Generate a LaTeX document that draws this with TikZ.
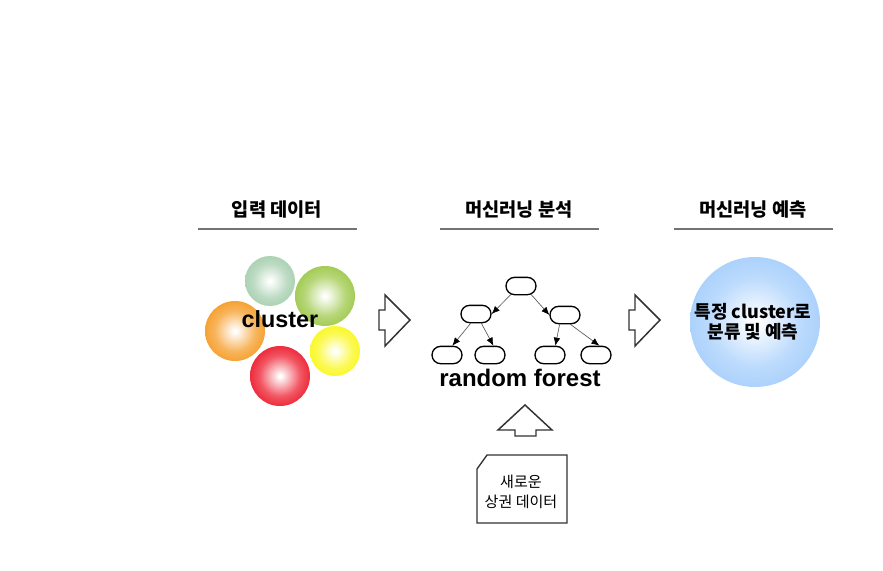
\documentclass[tikz,border=0pt]{standalone}
\usepackage{fontspec}
\setmainfont{Liberation Sans}
\newfontfamily\kr{Noto Sans CJK KR}
\usetikzlibrary{arrows.meta,shapes.misc}
\colorlet{ballc}{white}
\pgfdeclareradialshading[ballc]{glow}{\pgfpoint{0bp}{0bp}}{color(0bp)=(white); color(1bp)=(white); color(17bp)=(ballc!80!white); color(25bp)=(ballc); color(50bp)=(ballc)}
\definecolor{cgreenlt}{RGB}{172,210,180}
\definecolor{cgreen}{RGB}{164,204,86}
\definecolor{corange}{RGB}{246,162,52}
\definecolor{cyellow}{RGB}{250,248,44}
\definecolor{cred}{RGB}{238,44,60}
\definecolor{cblue}{RGB}{172,210,252}
\definecolor{lnd}{RGB}{50,50,50}
\tikzset{
    ball/.style 2 args={circle,draw=none,/utils/exec={\colorlet{ballc}{#2}},shading=glow,minimum size=#1},
    head/.style={font=\kr\bfseries\fontsize{14}{16}\selectfont},
    bar/.style={draw=gray!90!black,line width=1.2pt},
    blockarrow/.style={draw=lnd,line width=1.1pt,fill=white,line join=miter},
    tarrow/.style={draw=gray!70!black,line width=0.5pt,-{Latex[length=6pt,width=5pt,color=black]}}
}
\begin{document}
\begin{tikzpicture}[x=0.75pt,y=-0.75pt]
        \useasboundingbox (0,0) rectangle (883,571);
        % headings
        \begin{scope}[every node/.style={head}]
            \node (h1) at (277,210) {입력 데이터};
            \node (h2) at (519,210) {머신러닝 분석};
            \node (h3) at (753,210) {머신러닝 예측};
        \end{scope}
        \path [bar] (198,229) -- (357,229);
        \path [bar] (440,229) -- (599,229);
        \path [bar] (674,229) -- (833,229);
        % input clusters
        \node (C1) [ball={37.5pt}{cgreenlt}] at (270,281) {};
        \node (C2) [ball={45pt}{cgreen}] at (325,296) {};
        \node (C3) [ball={45pt}{corange}] at (235,331) {};
        \node (C4) [ball={37.5pt}{cyellow}] at (335,351) {};
        \node (C5) [ball={45pt}{cred}] at (280,376) {};
        \node (cl) [font=\bfseries\fontsize{17.5}{20}\selectfont] at (280,319) {cluster};
        % block arrows
        \path [blockarrow] (385,295) -- (410,320) -- (385,346) -- (385,330) -- (379,330) -- (379,310) -- (385,310) -- cycle;
        \path [blockarrow] (635,295) -- (660,320) -- (635,346) -- (635,330) -- (629,330) -- (629,310) -- (635,310) -- cycle;
        \path [blockarrow] (525,405) -- (552,430) -- (536,430) -- (536,436) -- (515,436) -- (515,430) -- (498,430) -- cycle;
        % random forest
        \begin{scope}[every node/.style={rounded rectangle,draw=black,line width=1pt,minimum width=22.5pt,minimum height=13pt,inner sep=0pt}]
            \node (R) at (521,286) {};
            \node (A) at (476,314) {};
            \node (B) at (565,315) {};
            \node (A1) at (447,355) {};
            \node (A2) at (490,355) {};
            \node (B1) at (550,355) {};
            \node (B2) at (596,355) {};
        \end{scope}
        \draw [tarrow] (R.-140) -- (A.east);
        \draw [tarrow] (R.-40) -- (B.west);
        \draw [tarrow] (A.-120) -- (A1.60);
        \draw [tarrow] (A.-60) -- (A2.70);
        \draw [tarrow] (B.-120) -- (B1.60);
        \draw [tarrow] (B.-60) -- (B2.70);
        \node (rf) [font=\bfseries\fontsize{18}{20}\selectfont] at (520,378) {random forest};
        % new data
        \path [blockarrow,line width=1pt] (477,469) -- (487,455) -- (567,455) -- (567,523) -- (477,523) -- cycle;
        \node (nd) [align=center,font=\kr\fontsize{11.3}{14.5}\selectfont] at (521,492) {새로운\\상권 데이터};
        % prediction
        \node (P) [ball={97.5pt}{cblue}] at (755,322) {};
        \node (pt) [align=center,font=\kr\bfseries\fontsize{13.5}{15}\selectfont] at (753,322) {특정 cluster로\\분류 및 예측};
    \end{tikzpicture}
\end{document}
